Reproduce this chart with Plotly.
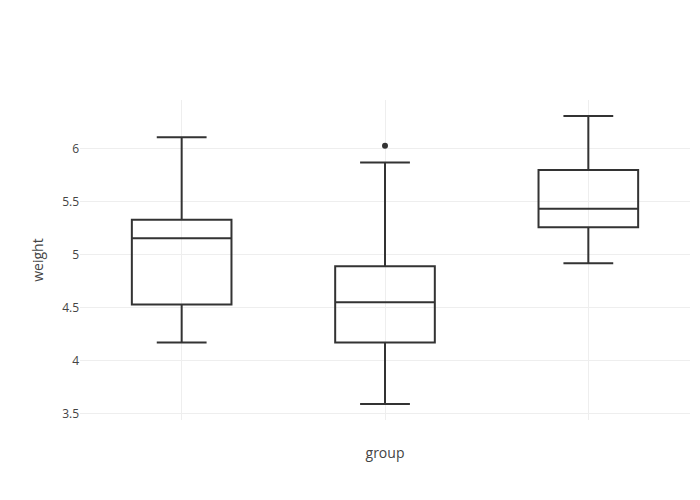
import plotly.graph_objects as go

groups = ["ctrl", "trt1", "trt2"]
ctrl = [4.17, 5.58, 5.18, 6.11, 4.50, 4.61, 5.17, 4.53, 5.33, 5.14]
trt1 = [4.81, 4.17, 4.41, 3.59, 5.87, 3.83, 6.03, 4.89, 4.32, 4.69]
trt2 = [6.31, 5.12, 5.54, 5.50, 5.37, 5.29, 4.92, 6.15, 5.80, 5.26]

x = []
y = []
for g, vals in zip(groups, [ctrl, trt1, trt2]):
    x += [g] * len(vals)
    y += vals

fig = go.Figure(go.Box(
    x=x, y=y,
    fillcolor="rgba(255,255,255,0)",
    line=dict(color="rgb(51,51,51)", width=2),
    marker=dict(color="rgb(51,51,51)", size=6),
    showlegend=False,
))
fig.update_layout(
    width=700, height=500,
    margin=dict(l=80, r=10, t=100, b=80),
    paper_bgcolor="white", plot_bgcolor="white",
    font=dict(family="Open Sans, verdana, arial, sans-serif", color="#444"),
    boxgap=0.3,
    xaxis=dict(title=dict(text="group", standoff=28), showticklabels=False,
               showgrid=True, gridcolor="#eee", zeroline=False),
    yaxis=dict(title=dict(text="weight"), showgrid=True, gridcolor="#eee",
               zeroline=False, dtick=0.5),
)
fig.write_html("out.html")
